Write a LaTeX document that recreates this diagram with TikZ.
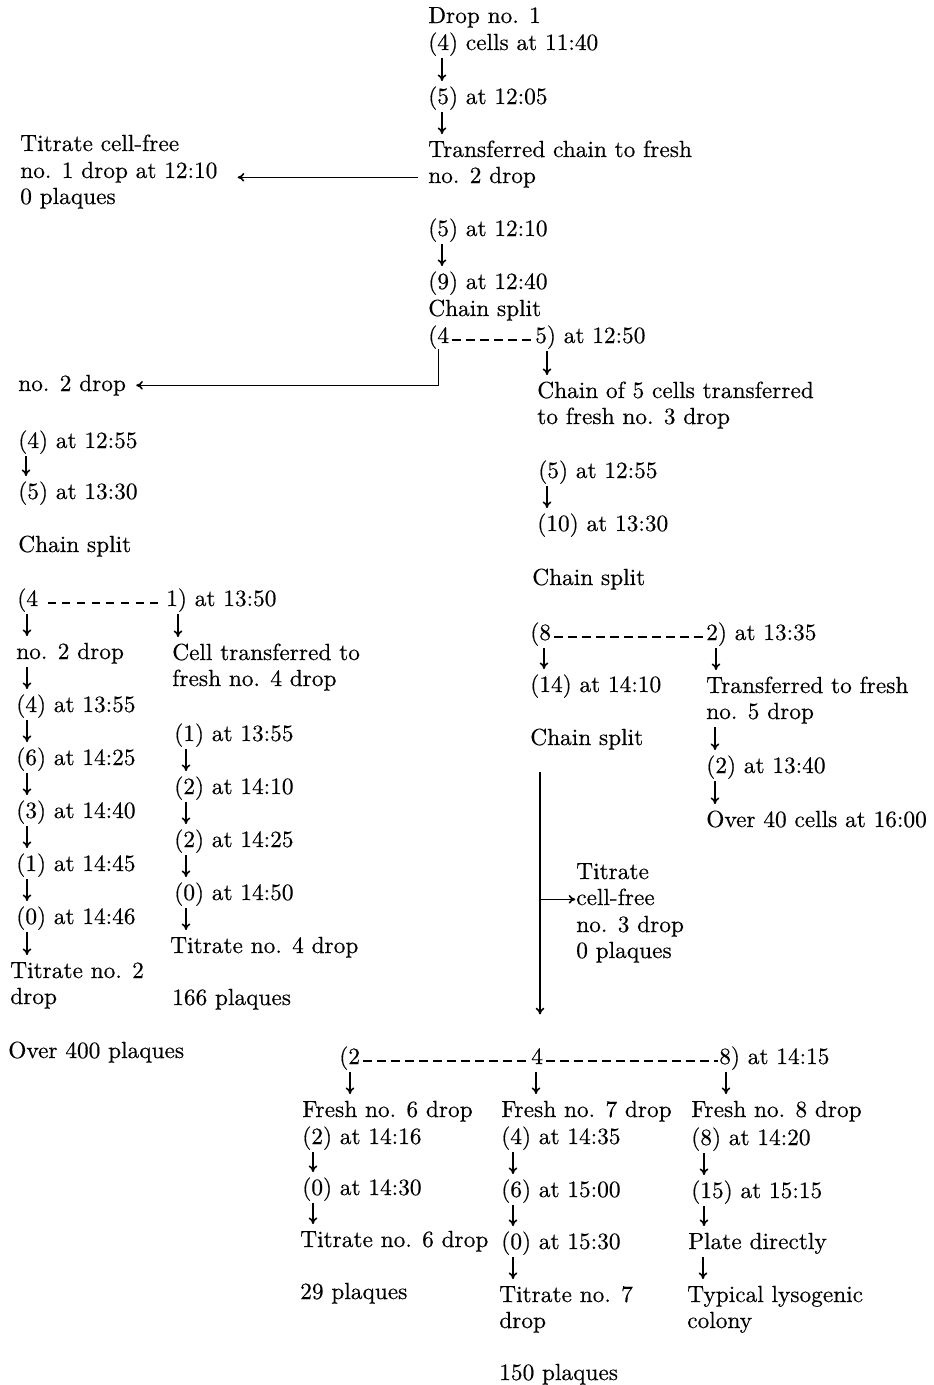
\documentclass[tikz,border=0pt]{standalone}
\usepackage{fontspec}
\newfontfamily\plainrm{lmroman10-regular.otf}[FakeBold=0.4]
\usetikzlibrary{arrows.meta,calc}
\begin{document}
\begin{tikzpicture}[x=0.75pt,y=0.75pt,yscale=-1,xscale=1,
	lbl/.style={anchor=base west,inner sep=0pt,text height=13pt,text depth=4.5pt,font=\plainrm\fontsize{17.5}{20}\selectfont},
	dn/.style={line width=1.2pt,-{To[length=5pt,width=6.5pt]},shorten <=1.5pt,shorten >=4pt},
	chainline/.style={line width=1.5pt,dash pattern=on 7pt off 3.5pt,shorten <=2pt,shorten >=1pt}]
	\useasboundingbox (0,0) rectangle (934,1385);

	% drop no. 1
	\node[lbl] (d1) at (428,23) {Drop no. 1};
	\node[lbl] (t1140) at (428,50) {(4) cells at 11:40};
	\node[lbl] (t1205) at (428,104) {(5) at 12:05};
	\node[lbl] (trA) at (428,157) {Transferred chain to fresh};
	\node[lbl] (trB) at (428,183) {no. 2 drop};
	\node[lbl] (tcA) at (20,151) {Titrate cell-free};
	\node[lbl] (tcB) at (20,178) {no. 1 drop at 12:10};
	\node[lbl] (tcC) at (20,204) {0 plaques};
	\node[lbl] (t1210) at (428,236) {(5) at 12:10};
	\node[lbl] (t1240) at (428,289) {(9) at 12:40};
	\node[lbl] (sp1) at (428,316) {Chain split};
	\node[lbl] (sa4) at (428,343) {(4};
	\node[lbl] (sa5) at (535,343) {5) at 12:50};

	% no. 2 drop
	\node[lbl] (no2) at (18,391) {no. 2 drop};
	\node[lbl] (l1255) at (18,448) {(4) at 12:55};
	\node[lbl] (l1330) at (18,499) {(5) at 13:30};
	\node[lbl] (sp2) at (18,552) {Chain split};
	\node[lbl] (sb4) at (17,606) {(4};
	\node[lbl] (sb1) at (166,606) {1) at 13:50};
	\node[lbl] (no2c) at (16,659) {no. 2 drop};
	\node[lbl] (l1355) at (16,712) {(4) at 13:55};
	\node[lbl] (l1425) at (16,765) {(6) at 14:25};
	\node[lbl] (l1440) at (16,818) {(3) at 14:40};
	\node[lbl] (l1445) at (16,871) {(1) at 14:45};
	\node[lbl] (l1446) at (16,924) {(0) at 14:46};
	\node[lbl] (ti2A) at (10,978) {Titrate no. 2};
	\node[lbl] (ti2B) at (10,1004) {drop};
	\node[lbl] (p400) at (8,1058) {Over 400 plaques};
	\node[lbl] (ctA) at (172,660) {Cell transferred to};
	\node[lbl] (ctB) at (172,686) {fresh no. 4 drop};
	\node[lbl] (m1355) at (174,741) {(1) at 13:55};
	\node[lbl] (m1410) at (174,794) {(2) at 14:10};
	\node[lbl] (m1425) at (174,847) {(2) at 14:25};
	\node[lbl] (m1450) at (174,900) {(0) at 14:50};
	\node[lbl] (ti4) at (170,953) {Titrate no. 4 drop};
	\node[lbl] (p166) at (172,1005) {166 plaques};

	% no. 3 drop
	\node[lbl] (c5A) at (537,398) {Chain of 5 cells transferred};
	\node[lbl] (c5B) at (537,424) {to fresh no. 3 drop};
	\node[lbl] (r1255) at (538,478) {(5) at 12:55};
	\node[lbl] (r1330) at (537,531) {(10) at 13:30};
	\node[lbl] (sp3) at (532,585) {Chain split};
	\node[lbl] (sc8) at (530,640) {(8};
	\node[lbl] (sc2) at (706,640) {2) at 13:35};
	\node[lbl] (r1410) at (530,692) {(14) at 14:10};
	\node[lbl] (sp4) at (530,745) {Chain split};
	\node[lbl] (tfA) at (706,693) {Transferred to fresh};
	\node[lbl] (tfB) at (706,719) {no. 5 drop};
	\node[lbl] (r1340) at (706,773) {(2) at 13:40};
	\node[lbl] (c40) at (706,827) {Over 40 cells at 16:00};
	\node[lbl] (t3A) at (576,879) {Titrate};
	\node[lbl] (t3B) at (576,905) {cell-free};
	\node[lbl] (t3C) at (576,932) {no. 3 drop};
	\node[lbl] (t3D) at (576,958) {0 plaques};

	% drops 6, 7, 8
	\node[lbl] (sd2) at (339,1064) {(2};
	\node[lbl] (sd4) at (531,1064) {4};
	\node[lbl] (sd8) at (719,1064) {8) at 14:15};
	\node[lbl] (f6) at (302,1117) {Fresh no. 6 drop};
	\node[lbl] (f7) at (501,1117) {Fresh no. 7 drop};
	\node[lbl] (f8) at (691,1117) {Fresh no. 8 drop};
	\node[lbl] (a6) at (302,1144) {(2) at 14:16};
	\node[lbl] (a7) at (501,1144) {(4) at 14:35};
	\node[lbl] (a8) at (691,1145) {(8) at 14:20};
	\node[lbl] (b6) at (302,1195) {(0) at 14:30};
	\node[lbl] (b7) at (501,1197) {(6) at 15:00};
	\node[lbl] (b8) at (691,1198) {(15) at 15:15};
	\node[lbl] (ti6) at (300,1247) {Titrate no. 6 drop};
	\node[lbl] (c7) at (501,1249) {(0) at 15:30};
	\node[lbl] (pl8) at (688,1249) {Plate directly};
	\node[lbl] (p29) at (300,1299) {29 plaques};
	\node[lbl] (ti7A) at (499,1302) {Titrate no. 7};
	\node[lbl] (ti7B) at (499,1328) {drop};
	\node[lbl] (ty8A) at (687,1302) {Typical lysogenic};
	\node[lbl] (ty8B) at (687,1328) {colony};
	\node[lbl] (p150) at (499,1380) {150 plaques};

	% chains
	\draw[chainline] (sa4.mid east) -- (sa5.mid west);
	\draw[chainline,dash pattern=on 6pt off 5pt,shorten <=7pt] (sb4.mid east) -- (sb1.mid west);
	\draw[chainline] (sc8.mid east) -- (sc2.mid west);
	\draw[chainline] (sd2.mid east) -- (sd4.mid west);
	\draw[chainline] (sd4.mid east) -- (sd8.mid west);

	% arrows
	\foreach \a/\b/\d in {t1140/t1205/14, t1205/trA/14, t1210/t1240/14, sa5/c5A/12,
		l1255/l1330/8, sb4/no2c/10, no2c/l1355/11, l1355/l1425/11, l1425/l1440/11, l1440/l1445/11, l1445/l1446/11, l1446/ti2A/11,
		sb1/ctA/12, m1355/m1410/12, m1410/m1425/12, m1425/m1450/12, m1450/ti4/12,
		r1255/r1330/9, sc8/r1410/14, sc2/tfA/10, tfB/r1340/9, r1340/c40/9,
		sd2/f6/11, sd4/f7/5, sd8/f8/7, a6/b6/11, b6/ti6/11, a7/b7/12, b7/c7/12, c7/ti7A/12, a8/b8/13, b8/pl8/13, pl8/ty8A/15}
		\draw[dn] ($(\a.south west)+(\d,0)$) coordinate (p) -- (p |- \b.north);

	\draw[dn,shorten <=7.5pt,shorten >=15pt] (trB.west) -- (trB.west -| tcB.east);
	\draw[dn,shorten <=0pt,shorten >=7.5pt] (sa4.south) |- (no2.east);
	\coordinate (vtop) at ($(sp4.south west)+(10,21)$);
	\draw[dn,shorten <=0pt,shorten >=24pt] (vtop) -- (vtop |- sd4.north);
	\draw[dn,shorten <=0pt,shorten >=0.5pt] (vtop |- t3B.west) -- (t3B.west);
\end{tikzpicture}
\end{document}
